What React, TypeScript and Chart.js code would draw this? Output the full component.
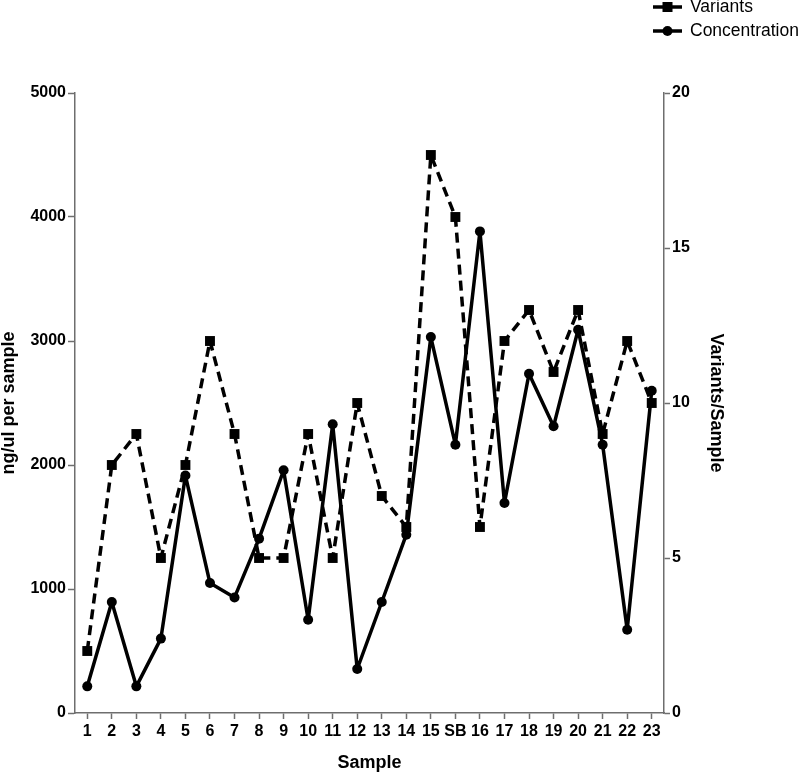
import React, { useEffect, useRef } from "react";
import { Chart, registerables } from "chart.js";

Chart.register(...registerables);

const categories = ["1", "2", "3", "4", "5", "6", "7", "8", "9", "10", "11", "12", "13", "14", "15", "SB", "16", "17", "18", "19", "20", "21", "22", "23"];
const variants = [2, 8, 9, 5, 8, 12, 9, 5, 5, 9, 5, 10, 7, 6, 18, 16, 6, 12, 13, 11, 13, 9, 12, 10];
const concentration = [215, 895, 215, 600, 1915, 1048, 932, 1406, 1957, 752, 2328, 355, 895, 1438, 3032, 2164, 3884, 1694, 2736, 2312, 3091, 2164, 672, 2599];
const legendLabels = ["Variants", "Concentration"];
const leftTitle = "ng/ul per sample";
const rightTitle = "Variants/Sample";
const xTitle = "Sample";

const FONT = "'Liberation Sans', Arial, Helvetica, sans-serif";
const AXIS = "#6e6e6e";

const legendPlugin = {
  id: "customLegend",
  afterDraw(chart: any) {
    const ctx = chart.ctx;
    const items = [
      { label: legendLabels[0], y: 7, style: "rect" },
      { label: legendLabels[1], y: 31, style: "circle" },
    ];
    ctx.save();
    for (const it of items) {
      ctx.strokeStyle = "#000";
      ctx.fillStyle = "#000";
      ctx.lineWidth = 3.5;
      ctx.setLineDash([]);
      ctx.beginPath();
      ctx.moveTo(653, it.y);
      ctx.lineTo(682, it.y);
      ctx.stroke();
      if (it.style === "rect") {
        ctx.fillRect(667.5 - 5, it.y - 5, 10, 10);
      } else {
        ctx.beginPath();
        ctx.arc(667.5, it.y, 5, 0, Math.PI * 2);
        ctx.fill();
      }
      ctx.font = `17.5px ${FONT}`;
      ctx.textBaseline = "middle";
      ctx.textAlign = "left";
      ctx.fillText(it.label, 690, it.y);
    }
    ctx.restore();
  },
};

export default function App() {
  const ref = useRef<HTMLCanvasElement | null>(null);
  useEffect(() => {
    if (!ref.current) return;
    Chart.defaults.font.family = FONT;
    Chart.defaults.color = "#000";
    const plain = (v: any) => String(v);
    const chart = new Chart(ref.current, {
      type: "line",
      data: {
        labels: categories,
        datasets: [
          {
            label: legendLabels[0],
            data: variants,
            yAxisID: "y1",
            borderColor: "#000",
            backgroundColor: "#000",
            borderWidth: 3.5,
            borderDash: [10, 6],
            borderJoinStyle: "round",
            pointStyle: "rect",
            pointRadius: 7,
            pointBorderWidth: 0,
            tension: 0,
          },
          {
            label: legendLabels[1],
            data: concentration,
            yAxisID: "y",
            borderColor: "#000",
            backgroundColor: "#000",
            borderWidth: 3.5,
            borderJoinStyle: "round",
            pointStyle: "circle",
            pointRadius: 5,
            pointBorderWidth: 0,
            tension: 0,
          },
        ],
      },
      options: {
        animation: false,
        responsive: false,
        devicePixelRatio: 1,
        layout: { padding: { left: 0, top: 93, right: 75, bottom: 0 } },
        plugins: { legend: { display: false }, tooltip: { enabled: false } },
        scales: {
          x: {
            type: "category",
            offset: true,
            border: { display: true, color: AXIS, width: 1.5 },
            grid: { drawOnChartArea: false, offset: false, drawTicks: true, tickLength: 6, tickColor: AXIS, tickWidth: 1.5 },
            ticks: { padding: 3, font: { size: 16, weight: "bold" }, color: "#000", maxRotation: 0, autoSkip: false },
            title: { display: true, text: xTitle, font: { size: 18, weight: "bold", lineHeight: 1 }, padding: { top: 0, bottom: 2 }, color: "#000" },
            afterFit(scale: any) { scale.height = 61; },
          },
          y: {
            position: "left",
            min: 0,
            max: 5000,
            border: { display: true, color: AXIS, width: 1.5 },
            grid: { drawOnChartArea: false, drawTicks: true, tickLength: 7, tickColor: AXIS, tickWidth: 1.5 },
            ticks: { stepSize: 1000, padding: 2, font: { size: 16, weight: "bold" }, color: "#000", callback: plain },
            title: { display: true, text: leftTitle, font: { size: 18, weight: "bold", lineHeight: 1 }, padding: { top: 0, bottom: 0 }, color: "#000" },
            afterFit(scale: any) { scale.width = 75; },
          },
          y1: {
            position: "right",
            min: 0,
            max: 20,
            border: { display: true, color: AXIS, width: 1.5 },
            grid: { drawOnChartArea: false, drawTicks: true, tickLength: 6, tickColor: AXIS, tickWidth: 1.5 },
            ticks: { stepSize: 5, padding: 2, font: { size: 16, weight: "bold" }, color: "#000", callback: plain },
            title: { display: true, text: rightTitle, font: { size: 18, weight: "bold", lineHeight: 1 }, padding: { top: 0, bottom: 0 }, color: "#000" },
            afterFit(scale: any) { scale.width = 61; },
          },
        },
      },
      plugins: [legendPlugin],
    } as any);
    return () => chart.destroy();
  }, []);
  return (
    <div style={{ position: "absolute", left: 0, top: 0, width: 800, height: 774, background: "#fff" }}>
      <canvas ref={ref} width={800} height={774} style={{ display: "block" }} />
    </div>
  );
}
